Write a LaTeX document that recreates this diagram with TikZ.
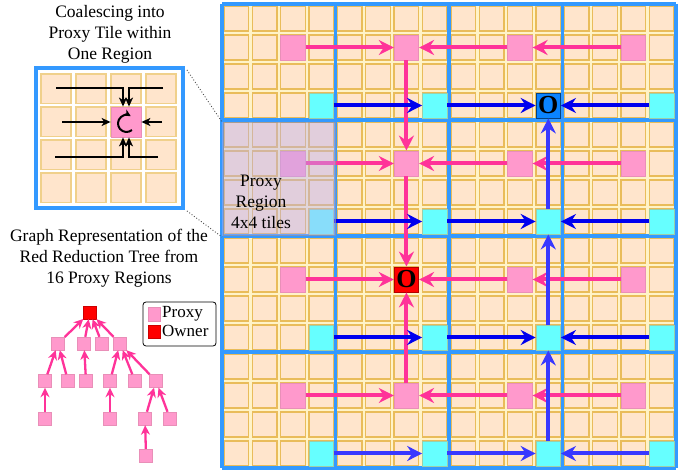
\documentclass[tikz,border=0pt]{standalone}
\usepackage{fontspec}
\setmainfont{Liberation Serif}
\usetikzlibrary{arrows.meta}
\definecolor{tilefill}{HTML}{FFE5CC}
\definecolor{tileedge}{HTML}{E9BC5A}
\definecolor{gapcol}{HTML}{FFF3C8}
\definecolor{regblue}{HTML}{3399FF}
\definecolor{proxypink}{HTML}{FF99CC}
\definecolor{pinkedge}{HTML}{E98FB8}
\definecolor{arrpink}{HTML}{FF3399}
\definecolor{cyanfill}{HTML}{66FFFF}
\definecolor{cyanedge}{HTML}{9CCFA8}
\definecolor{arrblue}{HTML}{0000EE}
\definecolor{arrbluelt}{HTML}{3838FF}
\definecolor{ownerblue}{HTML}{0A84FF}
\definecolor{veil}{HTML}{B9B0F4}
\begin{document}
\begin{tikzpicture}[x=1pt,y=-1pt,
  tilebox/.style={fill=tilefill,draw=tileedge,line width=1.4pt},
  itile/.style={fill=tilefill,draw=tileedge!70,line width=1.2pt},
  special/.style={minimum width=24.5pt,minimum height=25pt,inner sep=0pt,line width=0.8pt},
  pinktile/.style={special,fill=proxypink,draw=pinkedge},
  cyantile/.style={special,fill=cyanfill,draw=cyanedge},
  ownfont/.style={font=\fontsize{26}{26}\selectfont\bfseries},
  redown/.style={special,fill=red,draw=red!70!black,ownfont},
  blueown/.style={special,fill=ownerblue,draw=ownerblue!50!black,ownfont},
  regline/.style={draw=regblue,line width=3.8pt},
  parrow/.style={draw=arrpink,line width=4pt,-{Stealth[length=15pt,width=15pt,inset=5pt]}},
  barrow/.style={draw=arrblue,line width=4pt,-{Stealth[length=15pt,width=15pt,inset=5pt]}},
  barrowlt/.style={barrow,draw=arrbluelt},
  inarrow/.style={draw=black,line width=1.7pt,-{Stealth[length=9pt,width=8pt,inset=2.5pt]}},
  treenode/.style={minimum size=13pt,inner sep=0pt,fill=proxypink,draw=pinkedge,line width=0.4pt},
  treeroot/.style={treenode,fill=red,draw=red!80!black},
  treeedge/.style={draw=arrpink,line width=2.3pt,-{Stealth[length=9.5pt,width=9pt,inset=3pt]}},
  titletext/.style={align=center,inner sep=0pt,font=\fontsize{17.5}{21}\selectfont},
  legtext/.style={anchor=west,inner sep=0pt,font=\fontsize{17}{21}\selectfont},
  dotconn/.style={draw=black!70,dotted,line width=0.9pt}
]
\useasboundingbox (0,0) rectangle (686,470);
\fill[white] (0,0) rectangle (686,470);

% ---------------- main grid ----------------
\fill[gapcol] (222,4) rectangle (676,468);
\foreach \i in {0,...,15}{
  \foreach \j in {0,...,15}{
    \filldraw[tilebox] ({222+\i*28.375+1.9},{4+\j*29+2}) rectangle ++(24.6,25);
  }
}
\foreach \k in {0,...,4}{
  \draw[regline] ({222+\k*113.5},4) -- ({222+\k*113.5},468);
  \draw[regline] (222,{4+\k*116}) -- (676,{4+\k*116});
}

% proxy tiles and owners
\foreach \c in {0,...,3}{
  \foreach \r in {0,...,3}{
    \ifnum\c\r=12
      \node[redown] (p\c\r) at ({222+(4*\c+2.5)*28.375},{4+(4*\r+1.5)*29}) {O};
    \else
      \node[pinktile] (p\c\r) at ({222+(4*\c+2.5)*28.375},{4+(4*\r+1.5)*29}) {};
    \fi
    \ifnum\c\r=20
      \node[blueown] (q\c\r) at ({222+(4*\c+3.5)*28.375},{4+(4*\r+3.5)*29}) {O};
    \else
      \node[cyantile] (q\c\r) at ({222+(4*\c+3.5)*28.375},{4+(4*\r+3.5)*29}) {};
    \fi
  }
}

% red reduction arrows
\foreach \r in {0,...,3}{
  \draw[parrow] (p0\r) -- (p1\r);
  \draw[parrow] (p2\r) -- (p1\r);
  \draw[parrow] (p3\r) -- (p2\r);
}
\draw[parrow] (p10) -- (p11);
\draw[parrow] (p11) -- (p12);
\draw[parrow] (p13) -- (p12);

% blue reduction arrows
\foreach \r in {0,1,2}{
  \draw[barrow] (q0\r) -- (q1\r);
  \draw[barrow] (q1\r) -- (q2\r);
  \draw[barrow] (q3\r) -- (q2\r);
}
\draw[barrowlt] (q03) -- (q13);
\draw[barrowlt] (q13) -- (q23);
\draw[barrowlt] (q33) -- (q23);
\draw[barrowlt] (q21) -- (q20);
\draw[barrowlt] (q22) -- (q21);
\draw[barrowlt] (q23) -- (q22);

% proxy region veil
\fill[veil,opacity=0.42] (222,122) rectangle (336,236);
\draw[black!45,line width=0.8pt,opacity=0.6] (223,122) rectangle (335,235);
\node[titletext] (prlabel) at (261,202) {Proxy\\Region\\4x4 tiles};

% ---------------- inset ----------------
\node[fill=white,draw=regblue,line width=4pt,minimum width=147pt,minimum height=140pt,inner sep=0pt] (inset) at (109.5,138) {};
\foreach \i in {0,...,3}{
  \foreach \j in {0,...,3}{
    \filldraw[itile] ({41+\i*35},{74+\j*33}) rectangle ++(30,29.5);
  }
}
\node[minimum width=30pt,minimum height=30pt,inner sep=0pt,fill=proxypink,draw=pinkedge,line width=0.8pt] (ip) at (126,122) {};
\draw[line width=2pt,-{Stealth[length=7pt,width=7pt,inset=2pt]}] ([shift={(50:8.5)}]126.5,123.5) arc[start angle=50,end angle=300,radius=8.5];

\coordinate (ia1) at (56,88);
\coordinate (ia2) at (163,88);
\coordinate (ia3) at (62,122);
\coordinate (ia4) at (162,122);
\coordinate (ia5) at (55,157);
\coordinate (ia6) at (158,157);
\draw[inarrow] (ia1) -| ([xshift=-3pt]ip.north);
\draw[inarrow] (ia2) -| ([xshift=3pt]ip.north);
\draw[inarrow] (ia3) -- (ip.west);
\draw[inarrow] (ia4) -- (ip.east);
\draw[inarrow] (ia5) -| ([xshift=-3pt]ip.south);
\draw[inarrow] (ia6) -| ([xshift=3pt]ip.south);

\coordinate (rc1) at (222,122);
\coordinate (rc2) at (222,237);
\draw[dotconn] ([shift={(2,4)}]inset.north east) -- (rc1);
\draw[dotconn] ([shift={(2,1)}]inset.south east) -- (rc2);

% ---------------- titles ----------------
\node[titletext] (title1) at (110,34) {Coalescing into\\Proxy Tile within\\One Region};
\node[titletext] (title2) at (109,258) {Graph Representation of the\\Red Reduction Tree from\\16 Proxy Regions};

% ---------------- legend ----------------
\node[draw=black,rounded corners=3pt,line width=0.8pt,minimum width=73pt,minimum height=44pt,inner sep=0pt] (legend) at (179.5,324) {};
\node[treenode,minimum width=12pt,minimum height=14pt] (lgp) at (154,314.5) {};
\node[treeroot,minimum width=12pt,minimum height=13pt] (lgo) at (154,331.5) {};
\node[legtext] (lgpt) at (162,313.5) {Proxy};
\node[legtext] (lgot) at (162,331) {Owner};

% ---------------- tree ----------------
\node[treeroot] (t0) at (90,312.5) {};
\node[treenode] (a1) at (58,343.5) {};
\node[treenode] (a2) at (84,343.5) {};
\node[treenode] (a3) at (102,343.5) {};
\node[treenode] (a4) at (120,343.5) {};
\node[treenode] (b1) at (45,381) {};
\node[treenode] (b2) at (68,381) {};
\node[treenode] (b3) at (86,381) {};
\node[treenode] (b4) at (110,381) {};
\node[treenode] (b5) at (135,381) {};
\node[treenode] (b6) at (156,381) {};
\node[treenode] (c1) at (45,418.5) {};
\node[treenode] (c2) at (110,418.5) {};
\node[treenode] (c3) at (145,418.5) {};
\node[treenode] (c4) at (170,418.5) {};
\node[treenode] (d1) at (146,455.5) {};
\draw[treeedge] (a1) -- (t0);
\draw[treeedge] (a2) -- (t0);
\draw[treeedge] (a3) -- (t0);
\draw[treeedge] (a4) -- (t0);
\draw[treeedge] (b1) -- (a1);
\draw[treeedge] (b2) -- (a1);
\draw[treeedge] (b3) -- (a2);
\draw[treeedge] (b4) -- (a4);
\draw[treeedge] (b5) -- (a4);
\draw[treeedge] (b6) -- (a4);
\draw[treeedge] (c1) -- (b1);
\draw[treeedge] (c2) -- (b4);
\draw[treeedge] (c3) -- (b6);
\draw[treeedge] (c4) -- (b6);
\draw[treeedge] (d1) -- (c3);
\end{tikzpicture}
\end{document}
